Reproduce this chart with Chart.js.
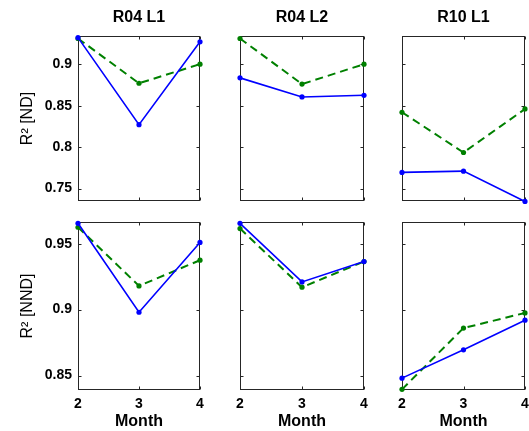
<!DOCTYPE html>
<html><head><meta charset="utf-8">
<script src="https://cdn.jsdelivr.net/npm/chart.js@4"></script>
<style>
html,body{margin:0;padding:0;background:#fff;}
#wrap{position:relative;width:529px;height:431px;overflow:hidden;}
#wrap canvas{position:absolute;left:0;top:0;}
</style></head><body><div id="wrap"></div>
<script>
const months = [2, 3, 4];
const panelTitles = ['R04 L1', 'R04 L2', 'R10 L1'];
const rowLabels = ['R\u00B2 [ND]', 'R\u00B2 [NND]'];
const xAxisTitle = 'Month';
// ND (top row)
const ndBlueR04L1 = [0.932, 0.827, 0.927];
const ndGreenR04L1 = [0.931, 0.877, 0.900];
const ndBlueR04L2 = [0.8835, 0.8605, 0.8625];
const ndGreenR04L2 = [0.931, 0.876, 0.900];
const ndBlueR10L1 = [0.7695, 0.771, 0.7345];
const ndGreenR10L1 = [0.842, 0.7935, 0.846];
// NND (bottom row)
const nndBlueR04L1 = [0.9655, 0.898, 0.951];
const nndGreenR04L1 = [0.9625, 0.918, 0.9375];
const nndBlueR04L2 = [0.9655, 0.921, 0.9365];
const nndGreenR04L2 = [0.9615, 0.917, 0.9365];
const nndBlueR10L1 = [0.848, 0.8695, 0.892];
const nndGreenR10L1 = [0.8395, 0.886, 0.8975];
// y ranges per row
const yMin = [0.735, 0.839];
const yMax = [0.934, 0.9665];

const W = 529, H = 431;
const colLeft = [78, 240, 402], colRight = [200, 364, 527];
const rowTop = [36, 222], rowBottom = [201, 390];
const FONT = "'Liberation Sans', Arial, Helvetica, sans-serif";
const BLUE = '#0000ff', GREEN = '#008000', AX = '#262626';

const framePlugin = {
  id: 'frame',
  beforeDatasetsDraw(chart) {
    const {ctx, chartArea: a, scales} = chart;
    const x = scales.x, y = scales.y;
    const l = Math.round(a.left) + 0.5, r = Math.round(a.right) - 0.5;
    const t = Math.round(a.top) + 0.5, b = Math.round(a.bottom) - 0.5;
    ctx.save();
    ctx.strokeStyle = AX; ctx.lineWidth = 1;
    ctx.strokeRect(l, t, r - l, b - t);
    const tl = 3;
    ctx.beginPath();
    y.ticks.forEach(tk => {
      const py = Math.round(y.getPixelForValue(tk.value)) + 0.5;
      ctx.moveTo(l, py); ctx.lineTo(l + tl, py);
      ctx.moveTo(r, py); ctx.lineTo(r - tl, py);
    });
    x.ticks.forEach(tk => {
      const px = Math.round(x.getPixelForValue(tk.value)) + 0.5;
      ctx.moveTo(px, t); ctx.lineTo(px, t + tl);
      ctx.moveTo(px, b); ctx.lineTo(px, b - tl);
    });
    ctx.stroke();
    ctx.restore();
  }
};

function makePanel(row, col, blue, green) {
  const wrap = document.getElementById('wrap');
  const canvas = document.createElement('canvas');
  canvas.width = W; canvas.height = H;
  canvas.style.width = W + 'px'; canvas.style.height = H + 'px';
  wrap.appendChild(canvas);
  const isLeft = col === 0, isBottom = row === 1;
  const L = colLeft[col], R = colRight[col], T = rowTop[row], B = rowBottom[row];
  const yW = isLeft ? L : 0;
  const xH = isBottom ? H - B : 0;
  const titleTop = 8.4, titleLH = 19.2;
  new Chart(canvas, {
    type: 'line',
    data: {
      datasets: [
        { data: months.map((m, i) => ({x: m, y: blue[i]})), borderColor: BLUE, backgroundColor: BLUE,
          borderWidth: 1.6, pointRadius: 2.6, pointStyle: 'circle', pointBorderWidth: 0, tension: 0, clip: false },
        { data: months.map((m, i) => ({x: m, y: green[i]})), borderColor: GREEN, backgroundColor: GREEN,
          borderWidth: 2, borderDash: [8, 5], pointRadius: 2.6, pointStyle: 'circle', pointBorderWidth: 0, tension: 0, clip: false }
      ]
    },
    options: {
      responsive: false, animation: false, devicePixelRatio: 1,
      layout: { padding: { left: L - yW, right: W - R, top: row === 0 ? 0 : T, bottom: H - B - xH } },
      plugins: {
        legend: { display: false }, tooltip: { enabled: false },
        title: row === 0 ? {
          display: true, text: panelTitles[col], fullSize: false, color: '#000',
          font: { family: FONT, size: 16, weight: 'bold', lineHeight: 1.2 },
          padding: { top: titleTop, bottom: T - titleTop - titleLH }
        } : { display: false }
      },
      scales: {
        x: {
          type: 'linear', min: 2, max: 4,
          grid: { display: false, drawTicks: false }, border: { display: false },
          ticks: { display: isBottom, stepSize: 1, color: '#000', padding: 6,
                   font: { family: FONT, size: 14, weight: 'bold' }, maxRotation: 0,
                   callback: v => String(v) },
          title: { display: isBottom, text: xAxisTitle, color: '#000',
                   font: { family: FONT, size: 16, weight: 'bold', lineHeight: 1.2 }, padding: { top: 0, bottom: 0 } },
          afterFit: s => { s.height = xH; s.paddingLeft = 0; s.paddingRight = 0; s.paddingTop = 0; s.paddingBottom = 0; }
        },
        y: {
          type: 'linear', min: yMin[row], max: yMax[row],
          grid: { display: false, drawTicks: false }, border: { display: false },
          ticks: { display: isLeft, stepSize: 0.05, includeBounds: false, color: '#000', padding: 6,
                   font: { family: FONT, size: 14, weight: 'bold' },
                   callback: v => String(+v.toFixed(3)) },
          title: { display: isLeft, text: rowLabels[row], color: '#000',
                   font: { family: FONT, size: 16, weight: 'normal', lineHeight: 1.2 }, padding: { top: 18.4, bottom: 0 } },
          afterFit: s => { s.width = yW; s.paddingLeft = 0; s.paddingRight = 0; s.paddingTop = 0; s.paddingBottom = 0; }
        }
      }
    },
    plugins: [framePlugin]
  });
}

makePanel(0, 0, ndBlueR04L1, ndGreenR04L1);
makePanel(0, 1, ndBlueR04L2, ndGreenR04L2);
makePanel(0, 2, ndBlueR10L1, ndGreenR10L1);
makePanel(1, 0, nndBlueR04L1, nndGreenR04L1);
makePanel(1, 1, nndBlueR04L2, nndGreenR04L2);
makePanel(1, 2, nndBlueR10L1, nndGreenR10L1);
</script></body></html>
